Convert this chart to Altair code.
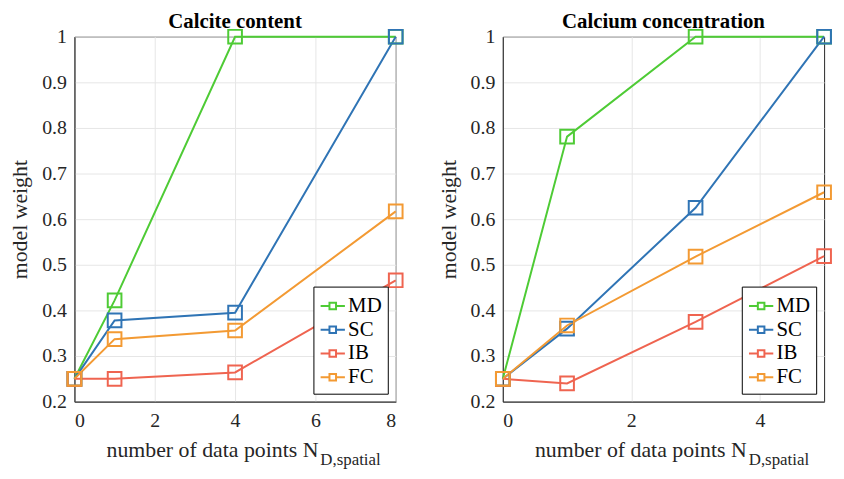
import altair as alt
import pandas as pd

series = ["MD", "SC", "IB", "FC"]
colors = ["#4ecb35", "#2f74b5", "#ef6450", "#f39a33"]

x_left = [0, 1, 4, 8]
md_left = [0.25, 0.422, 1.0, 1.0]
sc_left = [0.25, 0.378, 0.395, 1.0]
ib_left = [0.25, 0.250, 0.264, 0.466]
fc_left = [0.25, 0.337, 0.356, 0.617]

x_right = [0, 1, 3, 5]
md_right = [0.25, 0.781, 1.0, 1.0]
sc_right = [0.25, 0.360, 0.625, 1.0]
ib_right = [0.25, 0.240, 0.375, 0.519]
fc_right = [0.25, 0.367, 0.518, 0.659]

FONT = "Liberation Serif, DejaVu Serif, serif"
W, H = 324, 368


def frame(xs, vals):
    rows = []
    for i, (s, v) in enumerate(zip(series, vals)):
        for x, y in zip(xs, v):
            rows.append({"x": x, "y": y, "series": s, "order": i})
    return pd.DataFrame(rows)


sym = "M-1,0H-0.27M0.27,0H1M-0.27,-0.27H0.27V0.27H-0.27Z"


def panel(df, title, xdomain, xticks):
    color = alt.Color(
        "series:N",
        scale=alt.Scale(domain=series, range=colors),
        sort=series,
        legend=alt.Legend(
            orient="bottom-right",
            title=None,
            strokeColor="black",
            fillColor="white",
            padding=6,
            offset=8,
            labelFont=FONT,
            labelFontSize=21,
            labelColor="black",
            labelOffset=2,
            rowPadding=0,
            symbolType=sym,
            symbolSize=600,
            symbolStrokeWidth=2,
            symbolFillColor="transparent",
        ),
    )
    xenc = alt.X(
        "x:Q",
        scale=alt.Scale(domain=xdomain, nice=False),
        axis=alt.Axis(values=xticks, title=None, format="d", labelFont=FONT, labelFontSize=20,
                      labelColor="#262626", labelPadding=9, ticks=False,
                      gridColor="#e6e6e6", domainColor="#262626"),
    )
    yenc = alt.Y(
        "y:Q",
        scale=alt.Scale(domain=[0.2, 1.0], nice=False),
        axis=alt.Axis(
            values=[0.2, 0.3, 0.4, 0.5, 0.6, 0.7, 0.8, 0.9, 1.0],
            title="model weight",
            labelExpr="datum.value == 1 ? '1' : format(datum.value, '.1f')",
            labelFont=FONT, labelFontSize=20, labelColor="#262626", labelPadding=8,
            titleFont=FONT, titleFontSize=22, titleFontWeight="normal", titleColor="#262626",
            titlePadding=10, ticks=False, gridColor="#e6e6e6", domainColor="#262626",
        ),
    )
    base = alt.Chart(df)
    lines = base.mark_line(strokeWidth=2).encode(
        x=xenc, y=yenc, color=color, detail="series:N", order="x:Q"
    )
    pts = base.mark_point(shape="square", filled=False, size=190, strokeWidth=2, opacity=1).encode(
        x=xenc, y=yenc, color=color, order="order:Q"
    )
    t1 = alt.Chart(pd.DataFrame({"t": ["number of data points N"]})).mark_text(
        font=FONT, fontSize=22, align="right", baseline="alphabetic", color="#262626"
    ).encode(text="t:N", x=alt.value(246), y=alt.value(H + 56))
    t2 = alt.Chart(pd.DataFrame({"t": ["D,spatial"]})).mark_text(
        font=FONT, fontSize=17, align="left", baseline="alphabetic", color="#262626"
    ).encode(text="t:N", x=alt.value(248), y=alt.value(H + 64))
    return alt.layer(lines, pts, t1, t2).properties(
        width=W,
        height=H,
        title=alt.TitleParams(title, font=FONT, fontSize=21, fontWeight="bold", color="black", offset=-6),
    )


left = panel(frame(x_left, [md_left, sc_left, ib_left, fc_left]), "Calcite content", [0, 8], [0, 2, 4, 6, 8])
right = panel(frame(x_right, [md_right, sc_right, ib_right, fc_right]), "Calcium concentration", [0, 5], [0, 2, 4])

chart = (
    alt.hconcat(left, right, spacing=29)
    .resolve_scale(color="independent")
    .configure(font=FONT)
    .configure_view(stroke="#262626", strokeWidth=1)
    .properties(background="white", padding=0)
)

chart.save("out.html", embed_options={"renderer": "svg", "actions": False})
